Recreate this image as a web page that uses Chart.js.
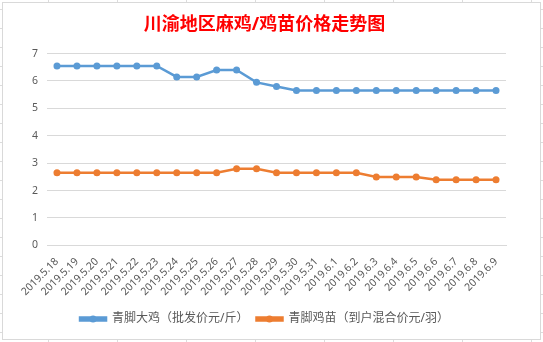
<!DOCTYPE html>
<html>
<head>
<meta charset="utf-8">
<script src="https://cdn.jsdelivr.net/npm/chart.js@4/dist/chart.umd.min.js"></script>
<style>
  html, body { margin: 0; padding: 0; }
  body {
    width: 543px; height: 342px; overflow: hidden; position: relative;
    background-color: #fff;
    background-image:
      linear-gradient(to right, #dcdcdc 1px, transparent 1px),
      linear-gradient(to bottom, #dcdcdc 1px, transparent 1px);
    background-size: 69px 19px;
    background-position: -21px 9px;
  }
  #frame {
    position: absolute; left: 2px; top: 2px; width: 537px; height: 336px;
    border: 1px solid #d9d9d9; background: #fff;
  }
</style>
</head>
<body>
<div id="frame"><canvas id="chart" width="537" height="336"></canvas></div>
<script>
const dates = ['2019.5.18', '2019.5.19', '2019.5.20', '2019.5.21', '2019.5.22', '2019.5.23',
    '2019.5.24', '2019.5.25', '2019.5.26', '2019.5.27', '2019.5.28', '2019.5.29', '2019.5.30',
    '2019.5.31', '2019.6.1', '2019.6.2', '2019.6.3', '2019.6.4', '2019.6.5', '2019.6.6',
    '2019.6.7', '2019.6.8', '2019.6.9'];
const bigChicken = [6.55, 6.55, 6.55, 6.55, 6.55, 6.55, 6.15, 6.15, 6.4, 6.4, 5.95, 5.8,
    5.65, 5.65, 5.65, 5.65, 5.65, 5.65, 5.65, 5.65, 5.65, 5.65, 5.65];
const chick = [2.65, 2.65, 2.65, 2.65, 2.65, 2.65, 2.65, 2.65, 2.65, 2.8, 2.8, 2.65,
    2.65, 2.65, 2.65, 2.65, 2.5, 2.5, 2.5, 2.4, 2.4, 2.4, 2.4];

const fontFamily = "'Noto Sans', 'Noto Sans CJK SC', sans-serif";
const blue = '#5B9BD5';
const orange = '#ED7D31';

// draws the marker dot on top of each legend line
const legendDots = {
    id: 'legendDots',
    afterDraw(chart) {
        const legend = chart.legend;
        if (!legend || !legend.legendHitBoxes) return;
        const ctx = chart.ctx;
        legend.legendHitBoxes.forEach((box, i) => {
            const ds = chart.data.datasets[i];
            const bw = legend.options.labels.boxWidth;
            ctx.save();
            ctx.fillStyle = ds.borderColor;
            ctx.beginPath();
            ctx.arc(box.left + bw / 2, box.top + box.height / 2, 3.5, 0, Math.PI * 2);
            ctx.fill();
            ctx.restore();
        });
    }
};

const ctx = document.getElementById('chart').getContext('2d');
new Chart(ctx, {
    type: 'line',
    data: {
        labels: dates,
        datasets: [
            {
                label: '青脚大鸡（批发价元/斤）',
                data: bigChicken,
                borderColor: blue,
                backgroundColor: blue,
                borderWidth: 2.5,
                pointRadius: 3.5,
                pointBorderWidth: 0,
                pointBackgroundColor: blue
            },
            {
                label: '青脚鸡苗（到户混合价元/羽）',
                data: chick,
                borderColor: orange,
                backgroundColor: orange,
                borderWidth: 2.5,
                pointRadius: 3.5,
                pointBorderWidth: 0,
                pointBackgroundColor: orange
            }
        ]
    },
    options: {
        responsive: false,
        animation: false,
        layout: { padding: { left: 20, right: 34, top: 8, bottom: 4 } },
        plugins: {
            title: {
                display: true,
                text: '川渝地区麻鸡/鸡苗价格走势图',
                color: '#FF0000',
                font: { family: fontFamily, size: 18, weight: 'bold' },
                padding: { top: 3, bottom: 18 }
            },
            legend: {
                position: 'bottom',
                labels: {
                    boxWidth: 26,
                    boxHeight: 3,
                    color: '#595959',
                    font: { family: fontFamily, size: 12 },
                    padding: 8
                }
            },
            tooltip: { enabled: false }
        },
        scales: {
            x: {
                offset: true,
                grid: { display: false },
                border: { color: '#d9d9d9' },
                afterFit(scale) {
                    scale.height += 5;
                },
                ticks: {
                    autoSkip: false,
                    maxRotation: 45,
                    minRotation: 45,
                    color: '#595959',
                    font: { family: fontFamily, size: 10.5 },
                    padding: 2
                }
            },
            y: {
                min: 0,
                max: 7,
                grid: { color: '#d9d9d9', drawTicks: false },
                border: { display: false },
                ticks: {
                    stepSize: 1,
                    color: '#595959',
                    font: { family: fontFamily, size: 10.5 },
                    padding: 9
                }
            }
        }
    },
    plugins: [legendDots]
});
</script>
</body>
</html>
